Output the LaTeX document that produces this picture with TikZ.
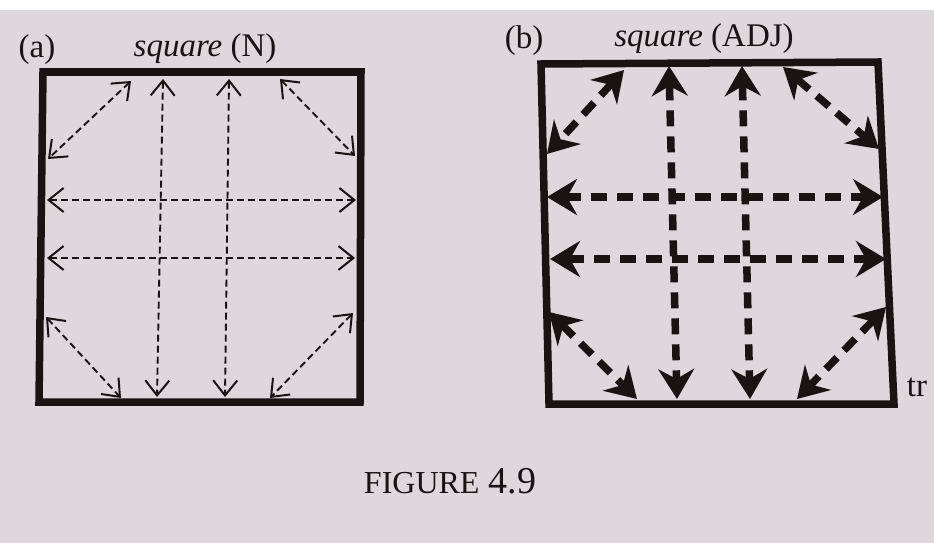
\documentclass[tikz,border=0pt]{standalone}
\usepackage{fontspec}
\setmainfont{Liberation Serif}
\usetikzlibrary{arrows.meta}
\definecolor{paper}{RGB}{221,216,219}
\definecolor{ink}{RGB}{24,20,20}
\tikzset{
  frameA/.style={draw=ink,line width=7.5pt,line join=miter},
  frameB/.style={draw=ink,line width=7.5pt,line join=miter},
  thinarrow/.style={draw=ink,line width=1.9pt,dash pattern=on 7pt off 4pt,
    {Straight Barb[length=15pt,width=24pt,line width=2pt]}-{Straight Barb[length=15pt,width=24pt,line width=2pt]}},
  thickarrow/.style={draw=ink,line width=7.5pt,dash pattern=on 16pt off 10pt,
    {Stealth[length=30pt,width=36pt,inset=10pt]}-{Stealth[length=30pt,width=36pt,inset=10pt]}},
  lab/.style={text=ink,font=\fontsize{33}{38}\selectfont,inner sep=0pt}
}
\begin{document}
\begin{tikzpicture}[x=1pt,y=-1pt]
\useasboundingbox (0,0) rectangle (934,543);
\fill[paper] (0,10) rectangle (934,543);
\fill[white] (0,0) rectangle (934,10);
% (a)
\draw[frameA] (43,72) -- (361,72) -- (360,402) -- (39,402) -- cycle;
\node[lab] (la) at (37,50) {(a)};
\node[lab] (ta) at (205,49) {\textit{square} (N)};
\draw[thinarrow] (131,81) -- (48,159);
\draw[thinarrow] (280,79) -- (355,156);
\draw[thinarrow] (47,200) -- (356,200);
\draw[thinarrow] (47,258) -- (355,258);
\draw[thinarrow] (163,79) -- (157,397);
\draw[thinarrow] (229,79) -- (225,397);
\draw[thinarrow] (46,317) -- (121,398);
\draw[thinarrow] (353,313) -- (270,398);
% (b)
\draw[frameB] (541,64) -- (878,62) -- (894,404) -- (549,404) -- cycle;
\node[lab] (lb) at (524,41) {(b)};
\node[lab] (tb) at (704,39) {\textit{square} (ADJ)};
\draw[thickarrow] (624,70) -- (547,154);
\draw[thickarrow] (783,67) -- (879,149);
\draw[thickarrow] (547,197) -- (883,197);
\draw[thickarrow] (550,259) -- (886,259);
\draw[thickarrow] (669,66) -- (677,399);
\draw[thickarrow] (742,66) -- (750,399);
\draw[thickarrow] (549,312) -- (637,399);
\draw[thickarrow] (886,307) -- (797,399);
\node[lab] (tr) at (917,387) {tr};
% caption
\node[text=ink,inner sep=0pt] (cap) at (450,481)
  {{\fontsize{32}{38}\selectfont FIGURE}\hspace{9pt}{\fontsize{38}{44}\selectfont 4.9}};
\end{tikzpicture}
\end{document}
